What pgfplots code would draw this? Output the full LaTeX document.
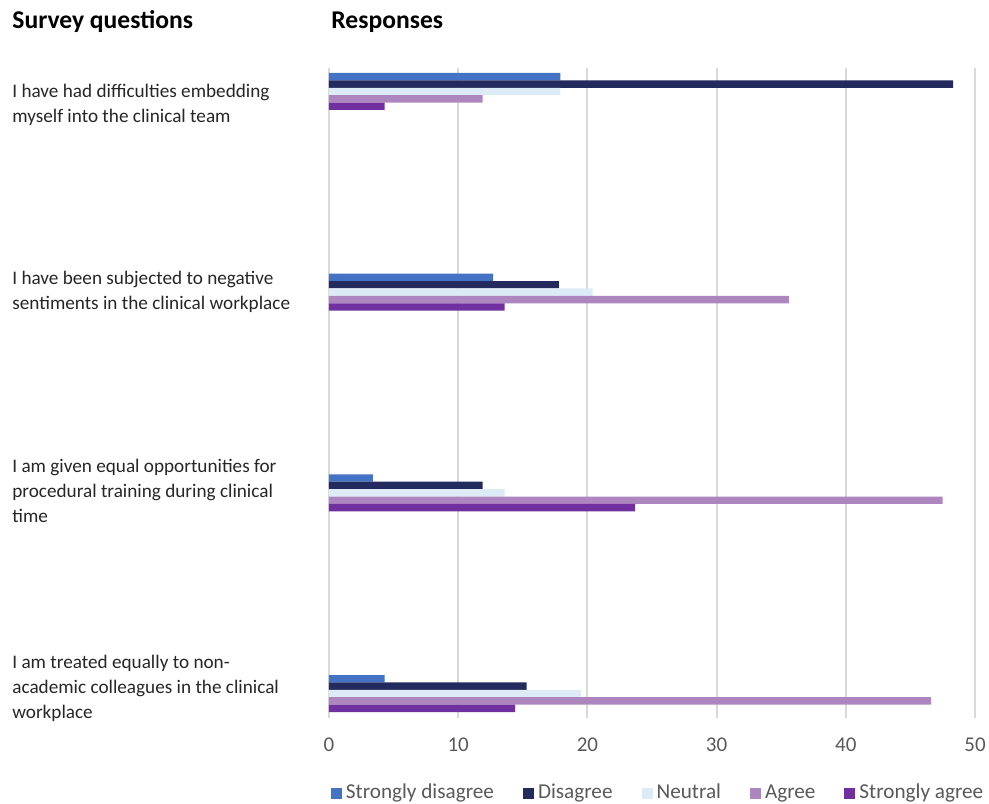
\documentclass[border=0pt]{standalone}
\usepackage{fontspec}
\setmainfont{Carlito}
\usepackage{pgfplots}
\pgfplotsset{compat=1.18}

\definecolor{cSD}{HTML}{4472C4}
\definecolor{cD}{HTML}{222A5E}
\definecolor{cN}{HTML}{DDEBF7}
\definecolor{cA}{HTML}{AE86BF}
\definecolor{cSA}{HTML}{7030A0}
\definecolor{gridgray}{HTML}{D9D9D9}
\definecolor{ticktext}{HTML}{595959}

\begin{document}
\begin{tikzpicture}
% fixed page frame (1px = 0.5pt), axis area lower-left at the origin
\useasboundingbox (-164.5pt,-42.5pt) rectangle (330pt,359pt);

% column headings
\node[anchor=base west, inner sep=0pt, font=\fontsize{12.8}{14}\selectfont\bfseries]
  at (-158.5pt,344.5pt) {Survey questions};
\node[anchor=base west, inner sep=0pt, font=\fontsize{12.8}{14}\selectfont\bfseries]
  at (1pt,344.5pt) {Responses};

\begin{axis}[
  at={(0pt,0pt)}, anchor=south west,
  scale only axis,
  width=323pt, height=325pt,
  xbar, bar width=0.0369,
  xmin=0, xmax=50,
  ymin=-0.117, ymax=3.122,
  y dir=reverse,
  xtick={0,10,20,30,40,50},
  ytick=\empty,
  xmajorgrids,
  major grid style={gridgray, line width=1pt},
  axis line style={draw=none},
  tick style={draw=none},
  clip=false,
  /pgf/number format/assume math mode=true,
  xticklabel style={font=\fontsize{10.5}{12}\selectfont, text=ticktext, anchor=center, yshift=-13.5pt},
  legend columns=5,
  legend style={
    at={(axis description cs:0.511,-0.1165)}, anchor=center,
    draw=none, fill=none,
    font=\fontsize{10.6}{12}\selectfont, text=ticktext,
    nodes={text height=0.7em, text depth=0.22em},
    /tikz/every even column/.append style={column sep=12.5pt},
    inner sep=0pt,
  },
  legend image code/.code={\fill[#1] (0pt,-2.6pt) rectangle (5.5pt,2.9pt);},
]
% rows: 0 embedding, 1 negative sentiments, 2 procedural training, 3 treated equally
\addplot[fill=cSD, draw=none, bar shift=-0.0738] coordinates
  {(17.9,0) (12.7,1) (3.4,2) (4.3,3)};
\addplot[fill=cD, draw=none, bar shift=-0.0369] coordinates
  {(48.3,0) (17.8,1) (11.9,2) (15.3,3)};
\addplot[fill=cN, draw=none, bar shift=0] coordinates
  {(17.9,0) (20.4,1) (13.6,2) (19.5,3)};
\addplot[fill=cA, draw=none, bar shift=0.0369] coordinates
  {(11.9,0) (35.6,1) (47.5,2) (46.6,3)};
\addplot[fill=cSA, draw=none, bar shift=0.0738] coordinates
  {(4.3,0) (13.6,1) (23.7,2) (14.4,3)};
\legend{Strongly disagree, Disagree, Neutral, Agree, Strongly agree}

% question texts
\tikzset{qlabel/.style={anchor=west, align=left, inner sep=0pt,
  font=\fontsize{9.6}{12.6}\selectfont, text=black!85}}
\node[qlabel] at (axis cs:-24.54,0.066)
  {I have had difficulties embedding\\myself into the clinical team};
\node[qlabel] at (axis cs:-24.54,1.0)
  {I have been subjected to negative\\sentiments in the clinical workplace};
\node[qlabel] at (axis cs:-24.54,1.99)
  {I am given equal opportunities for\\procedural training during clinical\\time};
\node[qlabel] at (axis cs:-24.54,2.975)
  {I am treated equally to non-\\academic colleagues in the clinical\\workplace};
\end{axis}
\end{tikzpicture}
\end{document}
